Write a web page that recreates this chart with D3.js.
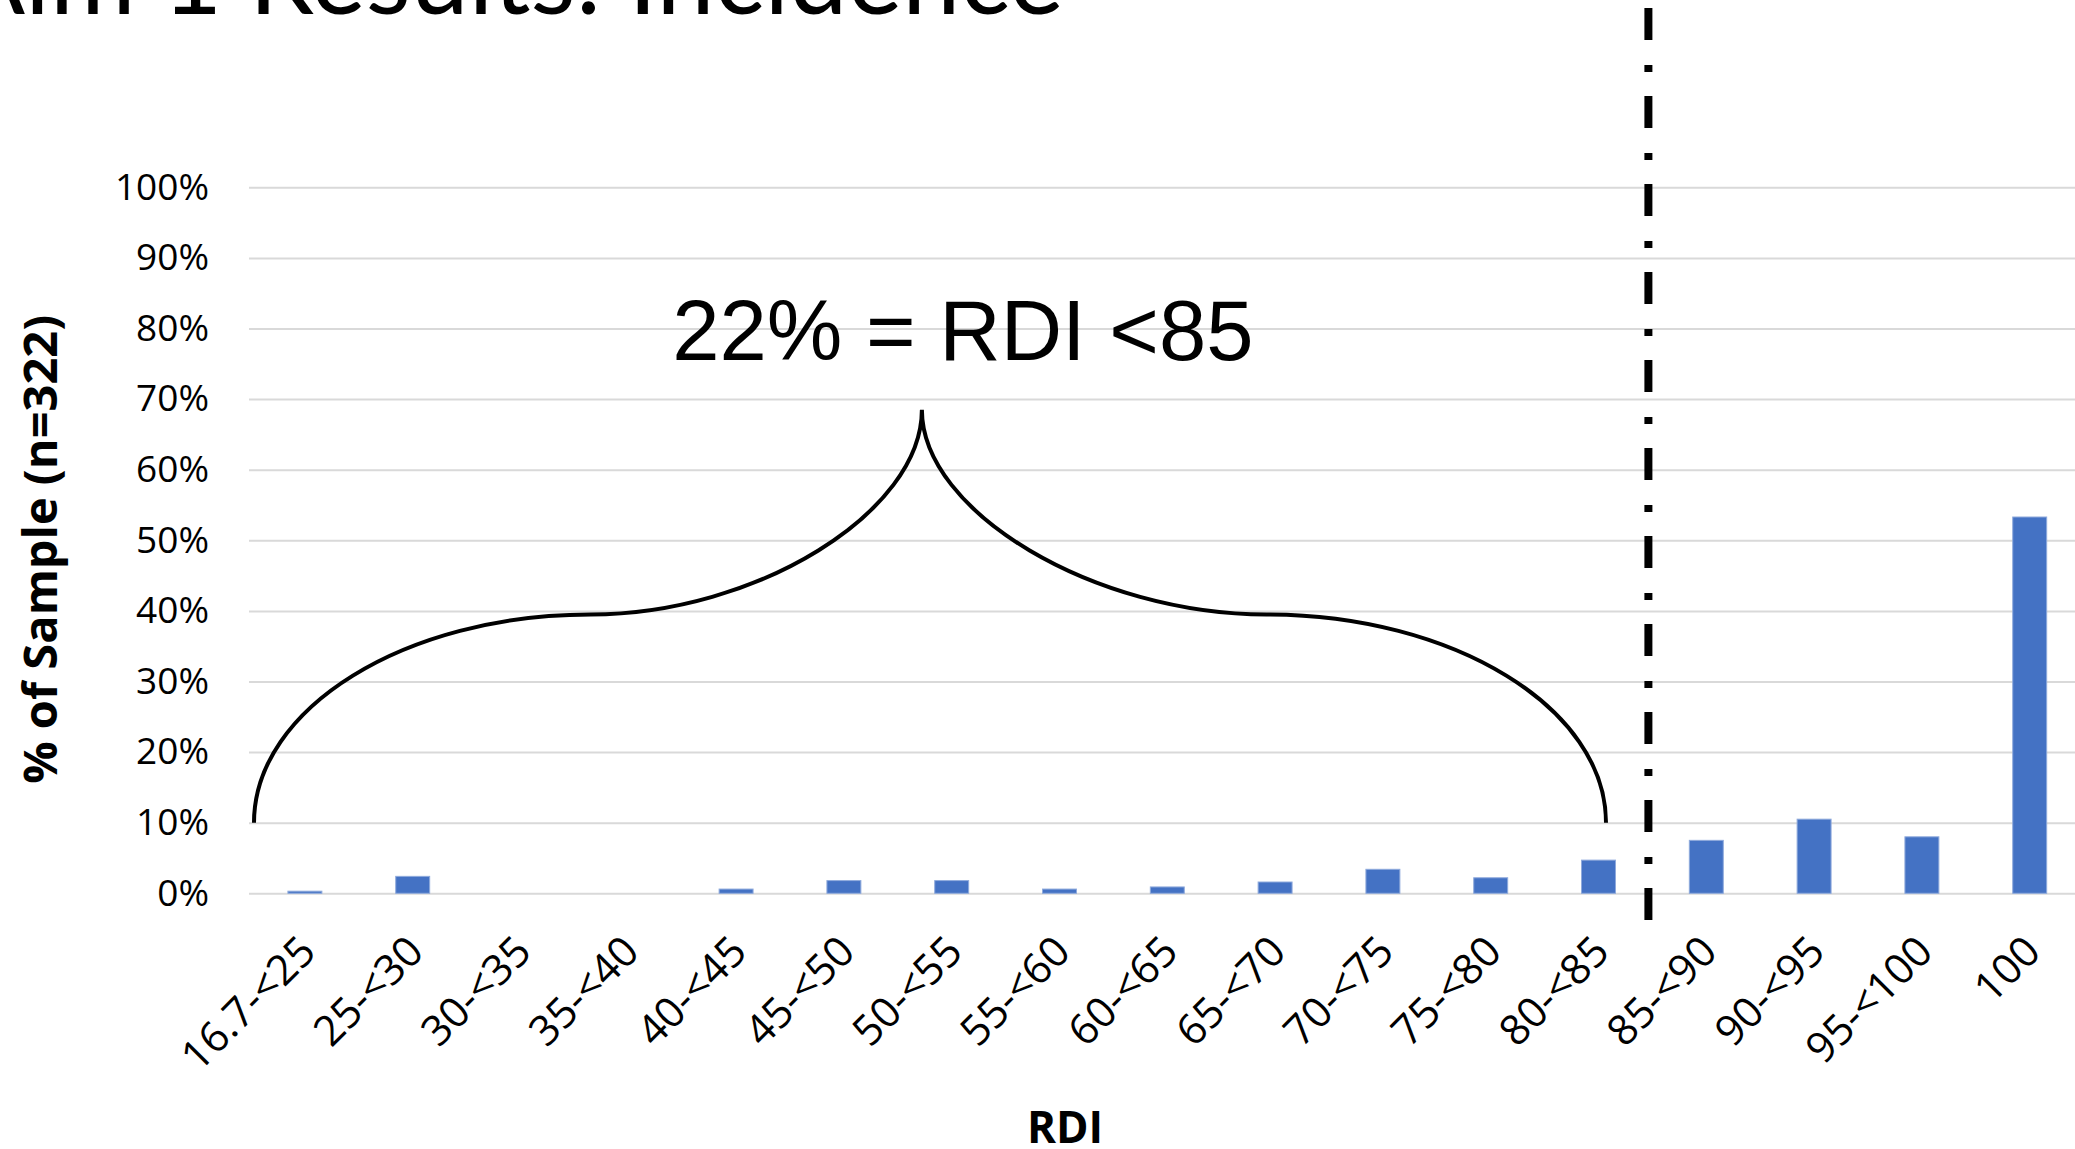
<!DOCTYPE html>
<html>
<head>
<meta charset="utf-8">
<script src="https://cdn.jsdelivr.net/npm/d3@7"></script>
<style>
  body { margin: 0; background: #fff; }
  svg { display: block; }
</style>
</head>
<body>
<svg id="chart"></svg>
<script>
/* Data */
var categories = ["16.7-<25", "25-<30", "30-<35", "35-<40", "40-<45", "45-<50", "50-<55",
  "55-<60", "60-<65", "65-<70", "70-<75", "75-<80", "80-<85", "85-<90", "90-<95", "95-<100", "100"];
// % of sample in each RDI bin
var shares = [0.003, 0.024, 0, 0, 0.006, 0.018, 0.018, 0.006, 0.009, 0.016, 0.034, 0.022,
  0.047, 0.075, 0.105, 0.080, 0.533];
var yTicks = [0, 0.1, 0.2, 0.3, 0.4, 0.5, 0.6, 0.7, 0.8, 0.9, 1.0];

var titleText = "Aim 1 Results: Incidence";
var noteText = "22% = RDI <85";
var cutCategory = "85-<90";   // dashed line sits just before this bin
var braceEndCategory = "80-<85";

/* Layout */
var W = 2075, H = 1149;
var svg = d3.select("#chart").attr("width", W).attr("height", H);

var x = d3.scaleBand()
  .domain(categories)
  .range([251, 2083.6])
  .paddingInner(0.685)
  .paddingOuter(0.3425);

var y = d3.scaleLinear().domain([0, 1]).range([893.3, 187.3]);

// Title (mostly cut off at the top of the slide)
svg.append("text")
  .attr("x", 1064).attr("y", 14)
  .attr("text-anchor", "end")
  .style("font-family", "Lato, 'Open Sans', sans-serif")
  .style("font-weight", 400)
  .style("font-size", "104px")
  .text(titleText);

// Gridlines + y labels
var yAxis = svg.append("g")
  .attr("transform", "translate(249,0)")
  .call(d3.axisLeft(y).tickValues(yTicks).tickFormat(d3.format(".0%")).tickSize(-(W - 249)).tickPadding(40));
yAxis.select(".domain").remove();
yAxis.selectAll(".tick line").attr("stroke", "#d9d9d9").attr("stroke-width", 2);
yAxis.selectAll(".tick text")
  .attr("fill", "#000")
  .style("font-family", "'Open Sans', sans-serif")
  .style("font-size", "37px");

// Bars
svg.append("g").selectAll("rect")
  .data(categories)
  .join("rect")
  .attr("x", function(d){ return x(d); })
  .attr("y", function(d, i){ return y(shares[i]); })
  .attr("width", x.bandwidth())
  .attr("height", function(d, i){ return y(0) - y(shares[i]); })
  .attr("fill", "#4472c4")
  .attr("stroke", "#8faadc")
  .attr("stroke-width", 1);

// X labels, rotated
svg.append("g").selectAll("text")
  .data(categories)
  .join("text")
  .attr("transform", function(d){
    var cx = x(d) + x.bandwidth() / 2 + 13;
    return "translate(" + cx + ",954) rotate(-45)";
  })
  .attr("text-anchor", "end")
  .attr("fill", "#000")
  .style("font-family", "'Open Sans', sans-serif")
  .style("font-size", "42px")
  .text(function(d){ return d; });

// Axis titles
svg.append("text")
  .attr("transform", "translate(57," + ((y(0) + y(1)) / 2 + 9) + ") rotate(-90)")
  .attr("text-anchor", "middle")
  .style("font-family", "'Open Sans', sans-serif")
  .style("font-weight", 700)
  .style("font-size", "47px")
  .text("% of Sample (n=322)");

svg.append("text")
  .attr("x", 1065).attr("y", 1143)
  .attr("text-anchor", "middle")
  .style("font-family", "'Open Sans', sans-serif")
  .style("font-weight", 700)
  .style("font-size", "44px")
  .text("RDI");

// Dashed cut line between <85 and >=85
var cutX = x(cutCategory) - x.step() * x.paddingOuter() - 4;
svg.append("line")
  .attr("x1", cutX).attr("x2", cutX)
  .attr("y1", 8).attr("y2", 920)
  .attr("stroke", "#000")
  .attr("stroke-width", 8)
  .attr("stroke-dasharray", "32,25,7,24");

// Curly brace over the bins below 85
var L = x(categories[0]) - x.step() * x.paddingOuter() + 3;
var R = x(braceEndCategory) + x.bandwidth() / 2 + 7.5;
var by = y(0.10), my = y(0.395), ty = y(0.685);
var tx = L + 0.494 * (R - L);
var jl = L + 0.504 * (tx - L), jr = tx + 0.504 * (R - tx);
var k1 = 0.55, k2 = 0.5;

var p = d3.path();
p.moveTo(L, by);
p.bezierCurveTo(L, by - k1 * (by - my), jl - k1 * (jl - L), my, jl, my);
p.bezierCurveTo(jl + k2 * (tx - jl), my, tx, ty + k2 * (my - ty), tx, ty);
p.bezierCurveTo(tx, ty + k2 * (my - ty), jr - k2 * (jr - tx), my, jr, my);
p.bezierCurveTo(jr + k1 * (R - jr), my, R, by - k1 * (by - my), R, by);

svg.append("path")
  .attr("d", p.toString())
  .attr("fill", "none")
  .attr("stroke", "#000")
  .attr("stroke-width", 4);

svg.append("text")
  .attr("x", tx + 41).attr("y", 360)
  .attr("text-anchor", "middle")
  .style("font-family", "'Liberation Sans', Arial, sans-serif")
  .style("font-size", "85px")
  .text(noteText);
</script>
</body>
</html>
